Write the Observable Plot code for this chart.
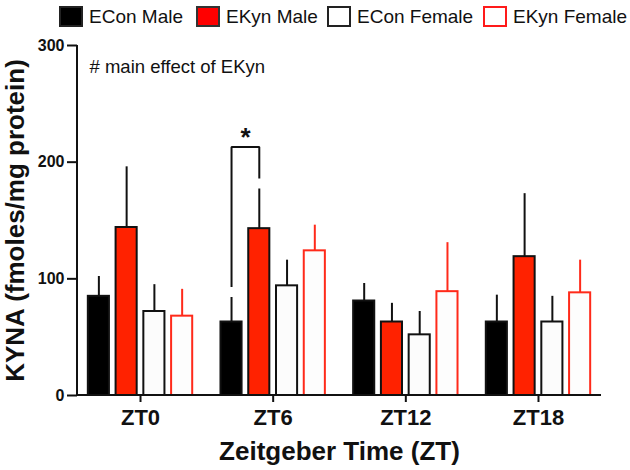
<!DOCTYPE html>
<html><head><meta charset="utf-8">
<script src="https://cdn.jsdelivr.net/npm/d3@7"></script>
<script src="https://cdn.jsdelivr.net/npm/@observablehq/plot@0.6"></script>
<style>
body{margin:0;background:#fff;font-family:"Liberation Sans",Arial,sans-serif;}
#wrap{width:630px;}
#legend{position:relative;height:35px;width:630px;}
.item{position:absolute;top:6px;height:21px;display:flex;align-items:center;font-size:19px;color:#111;white-space:nowrap;}
.sw{width:24px;height:21px;box-sizing:border-box;margin-right:6px;flex:none;}
</style></head>
<body>
<div id="wrap"><div id="legend"></div><div id="chart"></div></div>
<script>
// categories
const zts = ["ZT0", "ZT6", "ZT12", "ZT18"];
const series = ["ECon Male", "EKyn Male", "ECon Female", "EKyn Female"];
// means
const econMale   = [85, 63, 81, 63];
const ekynMale   = [144, 143, 63, 119];
const econFemale = [72, 94, 52, 63];
const ekynFemale = [68, 124, 89, 88];
// upper error (SEM)
const econMaleErr   = [17, 21, 15, 23];
const ekynMaleErr   = [52, 34, 16, 54];
const econFemaleErr = [23, 22, 20, 22];
const ekynFemaleErr = [23, 22, 42, 28];
// y ticks
const yTicks = [0, 100, 200, 300];
// significance bracket (ZT6: ECon Male vs EKyn Male)
const bracketZt = "ZT6";
const bracketSeries = ["ECon Male", "ECon Male", "EKyn Male", "EKyn Male"];
const bracketValues = [93, 213, 213, 186];
const annotation = "# main effect of EKyn";
const yTitle = "KYNA (fmoles/mg protein)";
const xTitle = "Zeitgeber Time (ZT)";

const fills   = ["#000000", "#ff2200", "#fcfcfc", "#fdfdfd"];
const strokes = ["#111111", "#111111", "#111111", "#ff2a1a"];
const swatchFills = ["#000000", "#ff0000", "#ffffff", "#ffffff"];
const swatchStrokes = ["#222222", "#333333", "#222222", "#ff1a1a"];
const legendX = [59, 196, 327, 483];

const means = [econMale, ekynMale, econFemale, ekynFemale];
const errs = [econMaleErr, ekynMaleErr, econFemaleErr, ekynFemaleErr];
const rows = series.flatMap((s, j) => zts.map((z, i) => ({zt: z, series: s, value: means[j][i], err: errs[j][i]})));
const bracket = bracketSeries.map((s, i) => ({zt: bracketZt, series: s, v: bracketValues[i]}));

// legend
const leg = document.getElementById("legend");
series.forEach((s, j) => {
  const it = document.createElement("div");
  it.className = "item";
  it.style.left = legendX[j] + "px";
  const sw = document.createElement("div");
  sw.className = "sw";
  sw.style.background = swatchFills[j];
  sw.style.border = "2px solid " + swatchStrokes[j];
  it.appendChild(sw);
  const t = document.createElement("span");
  t.textContent = s;
  it.appendChild(t);
  leg.appendChild(it);
});

const marks = [];
series.forEach((s, j) => {
  const d = rows.filter(r => r.series === s);
  marks.push(Plot.ruleX(d, {fx: "zt", x: "series", y1: "value", y2: r => r.value + r.err, stroke: strokes[j], strokeWidth: 2}));
});
series.forEach((s, j) => {
  const d = rows.filter(r => r.series === s);
  marks.push(Plot.barY(d, {fx: "zt", x: "series", y: "value", fill: fills[j], stroke: strokes[j], strokeWidth: 2}));
});
marks.push(Plot.line(bracket, {fx: "zt", x: "series", y: "v", stroke: "#111", strokeWidth: 2, strokeLinejoin: "miter", strokeLinecap: "butt"}));
marks.push(Plot.text([{zt: bracketZt, series: "ECon Male", v: 213, t: "*"}], {fx: "zt", x: "series", y: "v", text: "t", dx: 14, dy: -1, lineAnchor: "bottom", fontSize: 26, fontWeight: "bold", fill: "#111"}));
marks.push(Plot.text([{zt: "ZT0", t: annotation}], {fx: "zt", text: "t", frameAnchor: "top-left", textAnchor: "start", lineAnchor: "top", dx: 12, dy: 14, fontSize: 18.5, fill: "#111"}));
marks.push(Plot.axisY({anchor: "left", ticks: yTicks, tickSize: 10, tickPadding: 3, fontSize: 16, fontWeight: "bold", label: yTitle, labelAnchor: "center", labelArrow: "none", labelOffset: 72, strokeWidth: 2}));
marks.push(Plot.axisFx({anchor: "bottom", tickSize: 7, tickPadding: 7, fontSize: 22, fontWeight: "bold", label: xTitle, labelAnchor: "center", labelArrow: "none", labelOffset: 64, strokeWidth: 2}));

const chart = Plot.plot({
  width: 630,
  height: 435,
  marginLeft: 77,
  marginRight: 29,
  marginTop: 10,
  marginBottom: 75,
  style: {fontFamily: "Liberation Sans, Arial, sans-serif", color: "#111", background: "#fff"},
  fx: {domain: zts, paddingInner: 0.05, paddingOuter: 0, round: false},
  x: {domain: series, paddingInner: 0.24, paddingOuter: 0.39, axis: null, round: false},
  y: {domain: [0, 300], axis: null},
  marks
});
document.getElementById("chart").appendChild(chart);

const svg = d3.select(chart.tagName.toLowerCase() === "svg" ? chart : chart.querySelector("svg"));
// enforce text sizes
svg.selectAll("text").each(function () {
  const t = this.textContent;
  const sel = d3.select(this);
  if (zts.includes(t)) sel.style("font-size", "22px").style("font-weight", "bold");
  else if (yTicks.map(String).includes(t)) sel.style("font-size", "16px").style("font-weight", "bold");
  else if (t === yTitle || t === xTitle) sel.style("font-size", "26px").style("font-weight", "bold");
});

// axis lines
const y = chart.scale("y");
const left = 77, right = 630 - 29;
svg.append("line").attr("x1", left).attr("x2", left).attr("y1", y.apply(300)).attr("y2", y.apply(0)).attr("stroke", "#111").attr("stroke-width", 2);
svg.append("line").attr("x1", left - 1).attr("x2", right).attr("y1", y.apply(0)).attr("y2", y.apply(0)).attr("stroke", "#111").attr("stroke-width", 2);
</script>
</body></html>
